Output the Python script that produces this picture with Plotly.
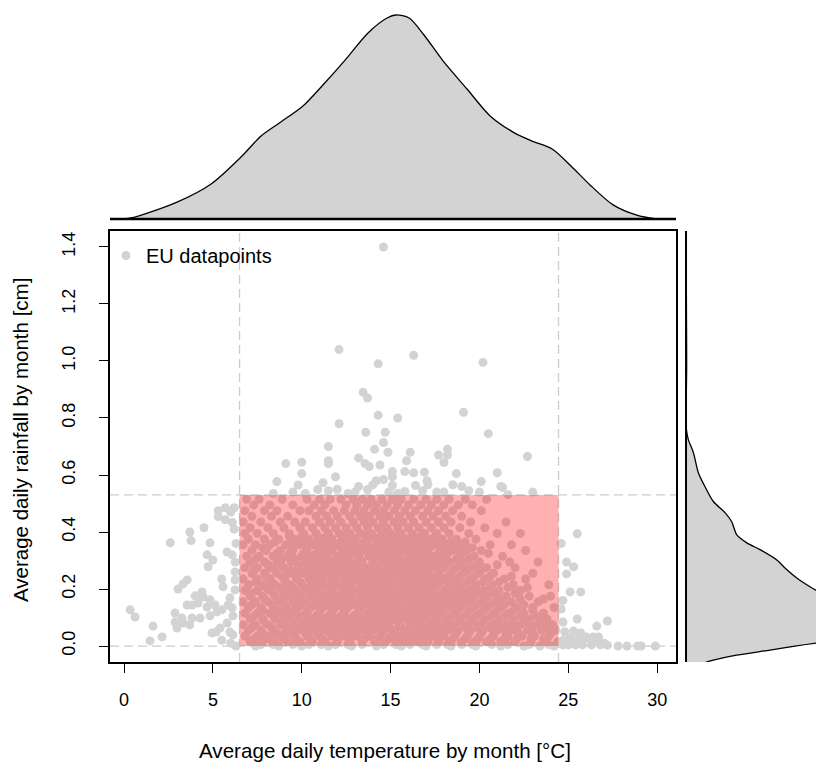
import plotly.graph_objects as go

# ---------------- data ----------------
# points above the highlighted box
above_temp = [14.6, 12.1, 14.3, 16.3, 20.2, 13.45, 13.7, 14.3, 12.1, 15.4, 19.1, 13.6, 14.7, 20.5,
              14.6, 14.1, 14.85, 16.1, 11.5, 11.5, 11.5, 13.2, 13.56, 13.8, 14.4, 15.9, 9.1, 10.0,
              10.0, 9.8, 8.6, 11.9, 11.2, 10.9, 11.5, 13.2, 14.2, 14.0, 13.7, 15.1, 15.1, 15.1,
              15.8, 16.3, 16.4, 15.8, 16.9, 17.05, 17.1, 17.7, 18.2, 18.2, 18.0, 22.7, 18.7, 21.0,
              18.5, 19.0, 20.1, 21.2, 18.0, 20.0, 21.6, 23.0, 21.3, 14.6, 8.4, 12.6, 14.9, 15.4,
              9.5, 10.2, 12.0, 13.0, 16.8, 17.6, 19.4]
above_rain = [1.40, 1.04, 0.99, 1.02, 0.995, 0.89, 0.87, 0.81, 0.78, 0.80, 0.82, 0.75, 0.75, 0.745,
              0.714, 0.69, 0.68, 0.68, 0.70, 0.65, 0.64, 0.66, 0.64, 0.63, 0.635, 0.65, 0.64, 0.645,
              0.605, 0.565, 0.577, 0.594, 0.573, 0.549, 0.545, 0.56, 0.58, 0.566, 0.549, 0.612, 0.594, 0.563,
              0.612, 0.608, 0.563, 0.542, 0.61, 0.58, 0.566, 0.67, 0.69, 0.67, 0.644, 0.665, 0.605, 0.608,
              0.566, 0.56, 0.577, 0.56, 0.54, 0.54, 0.531, 0.54, 0.556, 0.584, 0.535, 0.535, 0.54, 0.535,
              0.54, 0.535, 0.55, 0.54, 0.545, 0.54, 0.545]

# points left of the highlighted box
left_temp = [3.7, 4.5, 3.77, 2.6, 4.84, 5.3, 5.7, 6.0, 5.3, 5.7, 6.1, 6.2, 4.67, 5.0, 4.73, 5.8,
             6.08, 6.25, 5.5, 5.57, 6.25, 6.25, 5.96, 3.55, 3.32, 3.04, 4.39, 4.0, 4.45, 4.84, 3.55,
             3.83, 4.16, 4.67, 5.12, 5.23, 4.84, 4.28, 3.83, 3.26, 2.87, 2.87, 3.32, 3.7, 2.98, 5.8,
             6.13, 5.4, 4.95, 5.18, 5.96, 6.13, 0.34, 0.62, 1.63, 2.14, 1.46, 5.5, 5.85, 6.08, 6.25,
             6.3, 6.2, 6.3, 6.0, 5.5]
left_rain = [0.40, 0.415, 0.37, 0.362, 0.362, 0.475, 0.485, 0.47, 0.454, 0.443, 0.433, 0.485, 0.32, 0.302, 0.278, 0.33,
             0.32, 0.295, 0.235, 0.208, 0.232, 0.197, 0.169, 0.232, 0.218, 0.2, 0.19, 0.176, 0.172, 0.162, 0.144,
             0.144, 0.151, 0.137, 0.144, 0.12, 0.106, 0.098, 0.098, 0.098, 0.084, 0.116, 0.081, 0.074, 0.063, 0.081,
             0.106, 0.063, 0.046, 0.049, 0.049, 0.039, 0.127, 0.102, 0.07, 0.032, 0.018, 0.127, 0.144, 0.134, 0.26,
             0.36, 0.41, 0.0, 0.01, 0.02]

# points right of the highlighted box
right_temp = [25.5, 24.9, 25.3, 24.9, 25.1, 25.7, 24.7, 25.5, 26.6, 27.2, 24.8, 25.3, 25.7, 26.0, 26.4,
              26.7, 25.1, 25.5, 25.8, 26.2, 26.6, 27.0, 24.7, 25.0, 25.4, 25.8, 26.3, 26.8, 27.2, 27.8,
              28.3, 28.9, 29.1, 29.9, 24.7, 24.6, 24.7, 24.6]
right_rain = [0.394, 0.295, 0.278, 0.253, 0.19, 0.19, 0.084, 0.095, 0.07, 0.088, 0.05, 0.053, 0.046, 0.032, 0.032,
              0.032, 0.028, 0.025, 0.021, 0.025, 0.018, 0.01, 0.004, 0.004, 0.004, 0.004, 0.004, 0.004, 0.003, 0.0,
              0.0, 0.0, 0.0, 0.0, 0.02, 0.13, 0.16, 0.36]

# points inside the highlighted box, listed row by row (rain level -> temperatures)
inside_rain_levels = [0.515, 0.495, 0.475, 0.455, 0.435, 0.415, 0.395, 0.375, 0.355, 0.335, 0.315, 0.295, 0.275,
                      0.255, 0.235, 0.215, 0.195, 0.175, 0.155, 0.135, 0.115, 0.095, 0.075, 0.055, 0.035, 0.015, 0.0]
inside_temp_rows = [
    [6.9, 7.6, 8.9, 10.3, 11.0, 11.6, 12.2, 12.9, 13.4, 13.9, 14.5, 15.1, 15.6, 16.3, 17.0, 17.6, 18.3, 19.2, 20.4],
    [7.3, 8.2, 9.5, 10.7, 11.3, 12.5, 13.1, 13.7, 14.2, 14.8, 15.4, 16.0, 16.7, 17.3, 18.0, 18.8, 19.6],
    [6.8, 7.9, 8.6, 9.9, 10.4, 11.1, 11.8, 12.4, 13.0, 13.5, 14.1, 14.6, 15.2, 15.8, 16.4, 17.1, 17.7, 18.5, 20.1],
    [7.2, 8.3, 9.2, 10.8, 11.4, 12.0, 12.7, 13.3, 13.8, 14.4, 14.9, 15.5, 16.1, 16.8, 17.4, 18.1, 19.0],
    [6.7, 7.7, 8.8, 9.6, 10.2, 11.0, 11.6, 12.2, 12.9, 13.5, 14.0, 14.6, 15.2, 15.7, 16.3, 17.0, 17.7, 18.4, 19.5, 21.5],
    [7.1, 8.1, 9.0, 9.9, 10.6, 11.3, 11.9, 12.5, 13.1, 13.7, 14.3, 14.8, 15.4, 16.0, 16.6, 17.3, 18.0, 18.9, 20.3],
    [6.8, 7.5, 8.4, 9.3, 10.1, 10.8, 11.5, 12.1, 12.7, 13.3, 13.9, 14.5, 15.0, 15.6, 16.2, 16.9, 17.6, 18.3, 19.4, 21.0, 22.3],
    [7.0, 7.9, 8.7, 9.6, 10.4, 11.1, 11.7, 12.4, 13.0, 13.6, 14.2, 14.7, 15.3, 15.9, 16.5, 17.2, 17.9, 18.7, 19.8],
    [6.7, 7.4, 8.2, 9.1, 9.9, 10.7, 11.4, 12.0, 12.6, 13.2, 13.8, 14.4, 15.0, 15.6, 16.1, 16.8, 17.5, 18.2, 19.0, 20.6, 21.8],
    [7.2, 8.0, 8.8, 9.5, 10.3, 11.0, 11.7, 12.3, 12.9, 13.5, 14.1, 14.6, 15.2, 15.8, 16.4, 17.0, 17.8, 18.5, 19.3, 20.1, 22.6],
    [6.9, 7.6, 8.4, 9.2, 10.0, 10.6, 11.3, 12.0, 12.6, 13.2, 13.8, 14.3, 14.9, 15.5, 16.1, 16.7, 17.4, 18.1, 18.9, 19.7, 21.3],
    [7.1, 7.9, 8.6, 9.4, 10.2, 10.9, 11.6, 12.2, 12.8, 13.4, 14.0, 14.6, 15.2, 15.8, 16.4, 17.0, 17.6, 18.3, 19.1, 20.0, 21.7, 23.3],
    [6.8, 7.5, 8.2, 9.0, 9.8, 10.5, 11.2, 11.9, 12.5, 13.1, 13.7, 14.3, 14.9, 15.5, 16.1, 16.7, 17.3, 18.0, 18.7, 19.5, 20.4, 22.0],
    [7.2, 7.9, 8.6, 9.3, 10.1, 10.8, 11.5, 12.2, 12.8, 13.4, 14.0, 14.6, 15.2, 15.8, 16.4, 17.0, 17.7, 18.4, 19.1, 19.9, 20.8, 23.0],
    [6.7, 7.5, 8.2, 9.0, 9.7, 10.4, 11.1, 11.8, 12.5, 13.1, 13.7, 14.3, 14.9, 15.5, 16.1, 16.7, 17.3, 18.0, 18.7, 19.5, 20.3, 21.4, 22.6],
    [7.0, 7.8, 8.5, 9.3, 10.0, 10.7, 11.4, 12.1, 12.8, 13.4, 14.0, 14.6, 15.2, 15.8, 16.4, 17.0, 17.6, 18.3, 19.0, 19.8, 20.7, 21.9, 23.9],
    [6.8, 7.5, 8.2, 8.9, 9.6, 10.3, 11.0, 11.7, 12.4, 13.1, 13.7, 14.3, 14.9, 15.5, 16.1, 16.7, 17.3, 18.0, 18.7, 19.4, 20.2, 21.1, 22.3],
    [7.1, 7.8, 8.5, 9.2, 9.9, 10.6, 11.3, 12.0, 12.7, 13.4, 14.0, 14.6, 15.2, 15.8, 16.4, 17.0, 17.6, 18.3, 19.0, 19.7, 20.5, 21.5, 22.8, 24.0],
    [6.7, 7.4, 8.1, 8.8, 9.5, 10.2, 10.9, 11.6, 12.3, 13.0, 13.7, 14.3, 14.9, 15.5, 16.1, 16.7, 17.3, 17.9, 18.6, 19.3, 20.1, 20.9, 21.8, 23.3],
    [7.0, 7.7, 8.4, 9.1, 9.8, 10.5, 11.2, 11.9, 12.6, 13.3, 14.0, 14.6, 15.2, 15.8, 16.4, 17.0, 17.6, 18.2, 18.9, 19.6, 20.4, 21.2, 22.1, 23.0, 24.2],
    [6.8, 7.5, 8.2, 8.9, 9.6, 10.3, 11.0, 11.7, 12.4, 13.1, 13.7, 14.3, 14.9, 15.5, 16.1, 16.7, 17.3, 17.9, 18.6, 19.3, 20.0, 20.8, 21.6, 22.5, 23.6],
    [7.1, 7.8, 8.5, 9.2, 9.9, 10.6, 11.3, 12.0, 12.7, 13.4, 14.0, 14.6, 15.2, 15.8, 16.4, 17.0, 17.6, 18.2, 18.9, 19.6, 20.3, 21.1, 21.9, 22.8, 23.8],
    [6.7, 7.4, 8.1, 8.8, 9.5, 10.2, 10.9, 11.6, 12.3, 13.0, 13.7, 14.3, 14.9, 15.5, 16.1, 16.7, 17.3, 17.9, 18.5, 19.2, 19.9, 20.7, 21.5, 22.3, 23.2, 24.1],
    [7.0, 7.7, 8.4, 9.1, 9.8, 10.5, 11.2, 11.9, 12.6, 13.3, 14.0, 14.6, 15.2, 15.8, 16.4, 17.0, 17.6, 18.2, 18.8, 19.5, 20.2, 21.0, 21.8, 22.7, 23.5, 24.3],
    [6.8, 7.5, 8.2, 8.9, 9.6, 10.3, 11.0, 11.7, 12.4, 13.1, 13.8, 14.4, 15.0, 15.6, 16.2, 16.8, 17.4, 18.0, 18.6, 19.3, 20.0, 20.8, 21.6, 22.4, 23.1, 23.9],
    [7.1, 7.8, 8.5, 9.2, 9.9, 10.6, 11.3, 12.0, 12.7, 13.4, 14.1, 14.7, 15.3, 15.9, 16.5, 17.1, 17.7, 18.3, 19.0, 19.7, 20.4, 21.2, 22.0, 22.9, 23.7, 24.4],
    [7.4, 8.7, 10.0, 11.5, 12.8, 14.2, 15.6, 17.0, 18.4, 19.8, 21.2, 22.5, 23.4, 24.2],
]

# second, staggered set of rows filling the dense core of the box
core_rain_levels = [0.385, 0.365, 0.345, 0.325, 0.305, 0.285, 0.265, 0.245, 0.225, 0.205, 0.185, 0.165,
                    0.145, 0.125, 0.105, 0.085, 0.065, 0.045, 0.025, 0.005]
core_temp_rows = [
    [9.3, 10.0, 10.9, 11.4, 12.3, 12.8, 13.6, 14.0, 14.9, 15.4, 16.3, 16.7, 17.5],
    [8.5, 9.4, 10.1, 10.9, 11.6, 12.2, 13.0, 13.5, 14.3, 14.9, 15.7, 16.2, 16.9, 17.8, 18.4, 19.2],
    [7.8, 9.5, 10.3, 11.2, 11.8, 12.7, 13.3, 13.9, 14.7, 15.3, 16.0, 16.6, 17.2, 18.0, 18.7, 19.6],
    [8.6, 9.3, 10.1, 10.8, 11.5, 12.4, 13.0, 13.8, 14.4, 15.0, 15.6, 16.3, 17.0, 17.7, 18.2, 19.0, 20.5],
    [7.4, 8.9, 9.6, 10.4, 11.1, 11.9, 12.5, 13.3, 14.0, 14.5, 15.3, 16.0, 16.5, 17.2, 17.9, 18.7, 19.4],
    [8.1, 8.8, 9.8, 10.6, 11.3, 11.9, 12.6, 13.2, 14.1, 14.8, 15.4, 16.1, 16.8, 17.4, 18.1, 19.0, 19.8, 21.0],
    [7.3, 8.5, 9.4, 10.2, 10.9, 11.6, 12.3, 13.0, 13.6, 14.4, 15.0, 15.7, 16.3, 17.1, 17.7, 18.5, 19.3, 20.1],
    [8.0, 8.9, 9.7, 10.5, 11.2, 11.9, 12.6, 13.4, 14.0, 14.7, 15.4, 16.0, 16.7, 17.5, 18.2, 18.9, 19.7, 20.6, 21.8],
    [7.4, 8.3, 9.1, 9.9, 10.8, 11.6, 12.3, 12.9, 13.7, 14.4, 15.0, 15.7, 16.4, 17.1, 17.8, 18.6, 19.3, 20.2, 21.1],
    [8.0, 8.8, 9.5, 10.4, 11.1, 11.8, 12.6, 13.3, 14.1, 14.7, 15.4, 16.1, 16.8, 17.4, 18.2, 18.9, 19.7, 20.6, 21.6, 22.7],
    [7.2, 8.4, 9.2, 10.0, 10.7, 11.5, 12.2, 12.9, 13.6, 14.4, 15.0, 15.7, 16.4, 17.1, 17.8, 18.5, 19.2, 20.0, 20.9, 22.0],
    [7.9, 8.8, 9.6, 10.4, 11.1, 11.8, 12.5, 13.3, 14.0, 14.7, 15.3, 16.0, 16.7, 17.4, 18.1, 18.8, 19.5, 20.3, 21.2, 22.3, 23.6],
    [7.2, 8.4, 9.1, 9.9, 10.7, 11.4, 12.1, 12.8, 13.5, 14.2, 14.9, 15.6, 16.3, 17.0, 17.6, 18.4, 19.0, 19.8, 20.6, 21.4, 22.5],
    [7.8, 8.7, 9.5, 10.3, 11.0, 11.7, 12.4, 13.2, 13.9, 14.6, 15.3, 16.0, 16.7, 17.3, 18.0, 18.7, 19.4, 20.2, 21.0, 21.9, 23.0],
    [7.3, 8.4, 9.2, 10.0, 10.8, 11.5, 12.2, 12.9, 13.6, 14.3, 15.0, 15.7, 16.4, 17.0, 17.7, 18.4, 19.1, 19.8, 20.6, 21.4, 22.3, 23.2],
    [7.9, 8.8, 9.5, 10.3, 11.0, 11.8, 12.5, 13.2, 13.9, 14.6, 15.4, 16.1, 16.7, 17.4, 18.1, 18.8, 19.5, 20.2, 21.0, 21.8, 22.6, 23.5],
    [7.2, 8.3, 9.1, 9.9, 10.6, 11.4, 12.1, 12.8, 13.5, 14.2, 14.9, 15.6, 16.3, 17.1, 17.7, 18.5, 19.2, 19.9, 20.6, 21.3, 22.1, 22.9, 23.8],
    [7.8, 8.6, 9.4, 10.2, 10.9, 11.6, 12.3, 13.0, 13.7, 14.5, 15.2, 15.9, 16.6, 17.3, 18.0, 18.7, 19.4, 20.1, 20.8, 21.5, 22.2, 23.0, 24.0],
    [7.3, 8.2, 9.0, 9.7, 10.5, 11.2, 12.0, 12.7, 13.5, 14.2, 14.9, 15.6, 16.3, 17.0, 17.7, 18.5, 19.2, 19.9, 20.6, 21.4, 22.1, 22.9, 23.6],
    [7.7, 8.4, 9.5, 10.4, 11.1, 11.9, 12.6, 13.4, 14.6, 15.3, 16.1, 16.8, 17.6, 18.2, 19.0, 19.6, 20.7, 21.6, 22.8, 23.9],
]

# marginal density of temperature (relative height)
temp_dens_x = [-0.5, 0.39, 2.98, 4.90, 6.64, 7.71, 8.78, 10.07, 11.14, 12.44, 13.73, 14.80, 15.31, 16.04,
               16.88, 17.95, 19.30, 20.60, 21.89, 22.96, 24.09, 25.15, 26.22, 27.52, 28.81, 29.88, 30.6]
temp_dens_h = [0.0, 0.005, 0.083, 0.172, 0.309, 0.407, 0.473, 0.554, 0.652, 0.779, 0.912, 0.985, 1.0, 0.985,
               0.902, 0.775, 0.637, 0.505, 0.426, 0.382, 0.343, 0.260, 0.167, 0.069, 0.020, 0.002, 0.0]

# marginal density of rainfall (relative height)
rain_dens_y = [1.50, 1.04, 0.97, 0.76, 0.725, 0.679, 0.609, 0.559, 0.507, 0.468, 0.436, 0.390, 0.362, 0.338,
               0.302, 0.274, 0.239, 0.208, 0.179, 0.134, 0.09, 0.035, 0.014, 0.0, -0.014, -0.032, -0.056,
               -0.08, -0.10]
rain_dens_d = [0.0, 0.003, 0.003, 0.002, 0.011, 0.036, 0.060, 0.093, 0.134, 0.191, 0.224, 0.249, 0.298, 0.363,
               0.445, 0.485, 0.543, 0.608, 0.676, 0.78, 0.87, 0.95, 0.676, 0.534, 0.412, 0.249, 0.101,
               0.03, 0.0]

x_ticks = [0, 5, 10, 15, 20, 25, 30]
y_ticks = [0.0, 0.2, 0.4, 0.6, 0.8, 1.0, 1.2, 1.4]
y_tick_text = ["0.0", "0.2", "0.4", "0.6", "0.8", "1.0", "1.2", "1.4"]

box_temp = [6.5, 24.45]
box_rain = [0.0, 0.53]

# ---------------- figure ----------------
temp_all = above_temp + left_temp + right_temp
rain_all = above_rain + left_rain + right_rain
for lvl, row in zip(inside_rain_levels + core_rain_levels, inside_temp_rows + core_temp_rows):
    temp_all += row
    rain_all += [lvl] * len(row)

W, H = 824, 765
OFF = 8  # page margin of the html body
FONT = "Liberation Sans, Arial, sans-serif"
XR = [-0.79, 31.06]
YR = [-0.056, 1.456]
DPX = 204.0  # pixels per density unit


def px(v):
    return (v - OFF) / W


def py(v):
    return 1 - (v - OFF) / H


fig = go.Figure()

fig.add_trace(go.Scatter(
    x=temp_all, y=rain_all, mode="markers", name="EU datapoints",
    marker=dict(color="#d3d3d3", size=9, line=dict(width=0)),
    xaxis="x", yaxis="y", showlegend=True))

# top marginal density
fig.add_trace(go.Scatter(
    x=temp_dens_x, y=temp_dens_h, mode="lines", fill="tozeroy", fillcolor="#d3d3d3",
    line=dict(color="black", width=1.3, shape="spline", smoothing=0.8),
    xaxis="x2", yaxis="y2", showlegend=False, hoverinfo="skip"))
fig.add_trace(go.Scatter(
    x=XR, y=[0, 0], mode="lines", line=dict(color="black", width=2.5),
    xaxis="x2", yaxis="y2", showlegend=False, hoverinfo="skip"))

# right marginal density
fig.add_trace(go.Scatter(
    x=rain_dens_d, y=rain_dens_y, mode="lines", fill="tozerox", fillcolor="#d3d3d3",
    line=dict(color="black", width=1.3, shape="spline", smoothing=0.8),
    xaxis="x3", yaxis="y3", showlegend=False, hoverinfo="skip"))
fig.add_trace(go.Scatter(
    x=[0, 0], y=YR, mode="lines", line=dict(color="black", width=2),
    xaxis="x3", yaxis="y3", showlegend=False, hoverinfo="skip"))

dash_style = dict(color="#cccccc", width=1.3, dash="9px,5px")
shapes = [
    dict(type="line", xref="x", yref="y domain", x0=box_temp[0], x1=box_temp[0], y0=0, y1=1,
         line=dash_style, layer="below"),
    dict(type="line", xref="x", yref="y domain", x0=box_temp[1], x1=box_temp[1], y0=0, y1=1,
         line=dash_style, layer="below"),
    dict(type="line", xref="x domain", yref="y", x0=0, x1=1, y0=box_rain[0], y1=box_rain[0],
         line=dash_style, layer="below"),
    dict(type="line", xref="x domain", yref="y", x0=0, x1=1, y0=box_rain[1], y1=box_rain[1],
         line=dash_style, layer="below"),
    dict(type="rect", xref="x", yref="y", x0=box_temp[0], x1=box_temp[1], y0=box_rain[0], y1=box_rain[1],
         fillcolor="rgba(255,0,0,0.31)", line=dict(width=0), layer="above"),
]

right_lo = -0.005
right_hi = right_lo + (W + OFF - 685) / DPX

fig.update_layout(
    width=W, height=H,
    margin=dict(l=0, r=0, t=0, b=0),
    paper_bgcolor="white", plot_bgcolor="white",
    font=dict(family=FONT, color="black", size=18),
    shapes=shapes,
    showlegend=True,
    legend=dict(x=px(106), y=py(236), xanchor="left", yanchor="top",
                bgcolor="rgba(0,0,0,0)", borderwidth=0, font=dict(size=20, family=FONT)),
    xaxis=dict(domain=[px(110), px(676)], range=XR, tickvals=x_ticks, ticks="outside", ticklen=9,
               tickwidth=1.3, tickcolor="black", showline=True, linecolor="black", linewidth=1.5,
               mirror=True, showgrid=False, zeroline=False, ticklabelstandoff=12,
               tickfont=dict(size=18, family=FONT), anchor="y"),
    yaxis=dict(domain=[py(662), py(231)], range=YR, tickvals=y_ticks, ticktext=y_tick_text,
               ticks="outside", ticklen=9, tickwidth=1.3, tickcolor="black", showline=True,
               linecolor="black", linewidth=1.5, mirror=True, showgrid=False, zeroline=False,
               tickangle=-90, ticklabelstandoff=17, tickfont=dict(size=18, family=FONT), anchor="x"),
    xaxis2=dict(domain=[px(110), px(676)], range=XR, visible=False, anchor="y2"),
    yaxis2=dict(domain=[py(221.04), py(10.9)], range=[-0.01, 1.02], visible=False, anchor="x2"),
    xaxis3=dict(domain=[px(685), 1.0], range=[right_lo, right_hi], visible=False, anchor="y3"),
    yaxis3=dict(domain=[py(662), py(231)], range=YR, visible=False, anchor="x3"),
    annotations=[
        dict(text="Average daily temperature by month [°C]", xref="paper", yref="paper",
             x=px(385), y=py(750), xanchor="center", yanchor="middle", showarrow=False,
             font=dict(size=20.6, family=FONT)),
        dict(text="Average daily rainfall by month [cm]", xref="paper", yref="paper",
             x=px(20), y=py(440), xanchor="center", yanchor="middle", showarrow=False, textangle=-90,
             font=dict(size=20.5, family=FONT)),
    ],
)

fig.write_html("out.html")
